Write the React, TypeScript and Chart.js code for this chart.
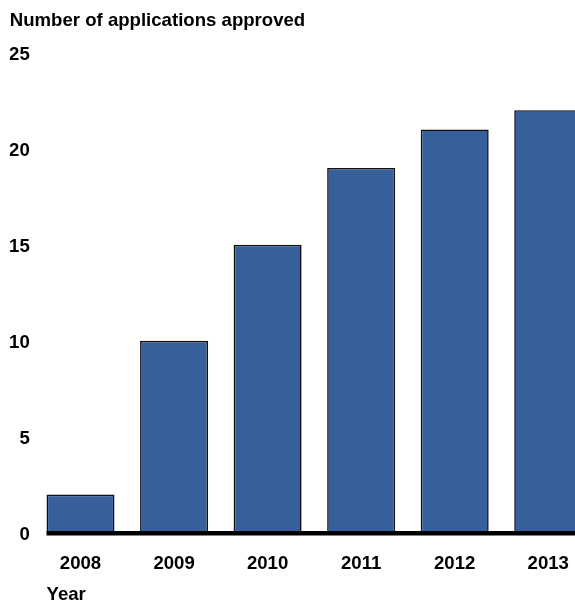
import React, { useEffect, useRef } from "react";
import { Chart, registerables } from "chart.js";

Chart.register(...registerables);

const years = ["2008", "2009", "2010", "2011", "2012", "2013"];
const approved = [2, 10, 15, 19, 21, 22];
const yTicks = [0, 5, 10, 15, 20, 25];
const titleText = "Number of applications approved";
const xTitleText = "Year";

const FONT = "'Liberation Sans', Arial, Helvetica, sans-serif";
const FS = 18.6;

const baselineAndYear = {
  id: "baselineAndYear",
  afterDatasetsDraw(chart: any) {
    const meta = chart.getDatasetMeta(0);
    const first = meta.data[0];
    if (!first) return;
    const w = first.width;
    const left = first.x - w / 2;
    const y0 = chart.scales.y.getPixelForValue(0);
    const ctx = chart.ctx;
    ctx.save();
    ctx.fillStyle = "#000";
    ctx.fillRect(left, y0 - 2, chart.width - left, 4.5);
    ctx.font = `bold ${FS}px ${FONT}`;
    ctx.textAlign = "left";
    ctx.textBaseline = "middle";
    ctx.fillText(xTitleText, left, 595);
    ctx.restore();
  },
};

export default function App() {
  const ref = useRef<HTMLCanvasElement | null>(null);

  useEffect(() => {
    if (!ref.current) return;
    const chart = new Chart(ref.current, {
      type: "bar",
      data: {
        labels: years,
        datasets: [
          {
            data: approved,
            backgroundColor: "#375f9b",
            borderColor: "#111",
            borderWidth: 1.6,
            barPercentage: 0.727,
            categoryPercentage: 1,
          },
        ],
      },
      options: {
        animation: false,
        responsive: false,
        maintainAspectRatio: false,
        layout: { padding: { left: 9.75, right: 0, top: 0, bottom: 26 } },
        plugins: {
          legend: { display: false },
          tooltip: { enabled: false },
          title: {
            display: true,
            text: titleText,
            align: "start",
            color: "#000",
            font: { family: FONT, size: FS, weight: "bold" },
            padding: { top: 10, bottom: 20.3 },
          },
        },
        scales: {
          x: {
            grid: { display: false, drawTicks: false },
            border: { display: false },
            afterFit: (scale: any) => {
              scale.height = 42;
            },
            ticks: {
              color: "#000",
              padding: 19.5,
              maxRotation: 0,
              autoSkip: false,
              font: { family: FONT, size: FS, weight: "bold" },
            },
          },
          y: {
            min: 0,
            max: 25,
            afterBuildTicks: (scale: any) => {
              scale.ticks = yTicks.map((v) => ({ value: v }));
            },
            afterFit: (scale: any) => {
              scale.width = 24;
            },
            grid: { display: false, drawTicks: false },
            border: { display: false },
            ticks: {
              color: "#000",
              padding: 4,
              labelOffset: 2,
              font: { family: FONT, size: FS, weight: "bold" },
            },
          },
        },
      },
      plugins: [baselineAndYear],
    });
    return () => chart.destroy();
  }, []);

  return (
    <div
      style={{
        position: "fixed",
        left: 0,
        top: 0,
        width: 575,
        height: 601,
        overflow: "hidden",
        background: "#fff",
      }}
    >
      <canvas ref={ref} width={595} height={601} style={{ display: "block" }} />
    </div>
  );
}
